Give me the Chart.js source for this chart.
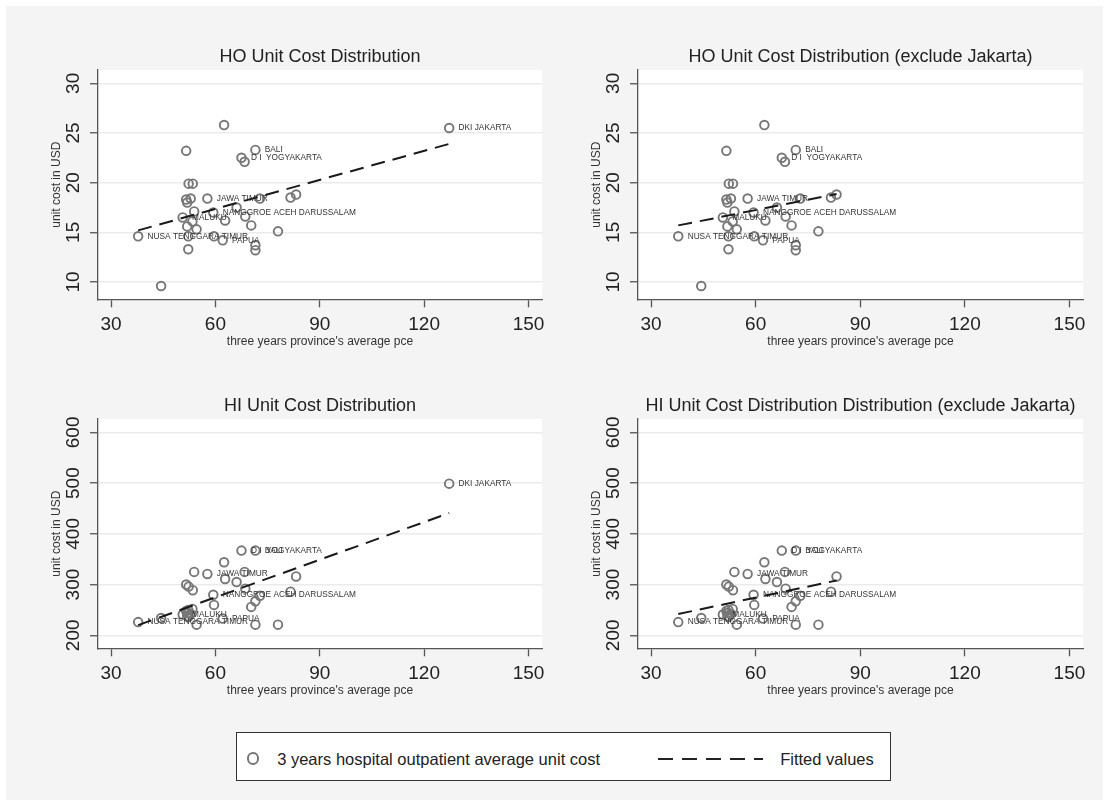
<!DOCTYPE html>
<html lang="en">
<head>
<meta charset="utf-8" />
<title>unit cost distribution</title>
<script src="https://cdn.jsdelivr.net/npm/chart.js@4.4.0/dist/chart.umd.min.js"></script>
<style>
  html, body { margin: 0; padding: 0; background: #fff; }
  #page { position: absolute; left: 6px; top: 6px; width: 1097px; height: 794px; background: #f4f4f4; }
  canvas { position: absolute; }
  #legend { position: absolute; left: 230px; top: 726px; width: 653px; height: 47px; background: #fff;
            border: 1.5px solid #333; font: 16.5px "Liberation Sans", Arial, sans-serif; color: #222; }
  #legend span { position: absolute; display: block; }
  .mark { left: 10px; top: 19.3px; width: 12.4px; height: 12.4px; box-sizing: border-box;
          border: 2px solid #777; border-radius: 50%; }
  .dash { left: 420.5px; top: 24.5px; width: 105.5px; height: 2px;
          background: repeating-linear-gradient(to right, #222 0 15px, transparent 15px 24px); }
  .txt { top: 25.5px; transform: translateY(-50%); white-space: nowrap; }
</style>
</head>
<body>
<div id="page">
  <canvas id="hoAll" width="549" height="355" style="left:0;top:0"></canvas>
  <canvas id="hoExcl" width="550" height="355" style="left:540px;top:0"></canvas>
  <canvas id="hiAll" width="549" height="355" style="left:0;top:349px"></canvas>
  <canvas id="hiExcl" width="550" height="355" style="left:540px;top:349px"></canvas>
  <div id="legend">
    <span class="mark"></span>
    <span class="txt" style="left:40.2px">3 years hospital outpatient average unit cost</span>
    <span class="dash"></span>
    <span class="txt" style="left:543.2px">Fitted values</span>
  </div>
</div>

<script>
// three years province's average pce (same x for every panel)
var pce = [62.5, 51.6, 71.5, 67.5, 68.4, 52.3, 53.5, 51.6, 52.9, 51.9, 57.7, 72.8,
           81.6, 83.2, 53.9, 59.4, 66.1, 68.6, 50.6, 53.4, 62.8, 70.3, 51.9, 54.6,
           78.0, 37.8, 52.2, 59.6, 62.1, 71.5, 71.5, 52.2, 44.4, 127.2];
// HO unit cost in USD
var hoCost = [25.8, 23.2, 23.3, 22.5, 22.1, 19.9, 19.9, 18.3, 18.4, 18.0, 18.4, 18.4,
              18.5, 18.8, 17.1, 17.0, 17.5, 16.6, 16.5, 16.1, 16.2, 15.7, 15.6, 15.3,
              15.1, 14.6, 14.6, 14.6, 14.2, 13.7, 13.2, 13.3, 9.6, 25.5];
// HI unit cost in USD
var hiCost = [344, 300, 367, 367, 325, 296, 289, 248, 242, 244, 321, 278,
              286, 316, 325, 280, 305, 292, 241, 252, 311, 256, 238, 221,
              221, 226, 250, 260, 233, 267, 221, 236, 234, 499];
var provNames = ["", "", "BALI", "D I  YOGYAKARTA", "", "", "", "", "", "", "JAWA TIMUR", "",
                 "", "", "", "NANGGROE ACEH DARUSSALAM", "", "", "MALUKU", "", "", "", "", "",
                 "", "NUSA TENGGARA TIMUR", "", "", "PAPUA", "", "", "", "", "DKI JAKARTA"];
var jakarta = 33;

// fitted values, read at the ends of each dashed line
var fitX = [37.8, 127.2];
var fitXExcl = [37.8, 83.2];
var hoFit = [15.2, 23.9];
var hoFitExcl = [15.7, 18.85];
var hiFit = [220, 441];
var hiFitExcl = [242, 308];

var xTicks = [30, 60, 90, 120, 150];
var hoTicks = [10, 15, 20, 25, 30];
var hiTicks = [200, 300, 400, 500, 600];

Chart.defaults.font.family = '"Liberation Sans", Arial, sans-serif';
Chart.defaults.color = '#222';

var whitePlot = {
  id: 'whitePlot',
  beforeDraw: function (chart) {
    var a = chart.chartArea, ctx = chart.ctx;
    ctx.save();
    ctx.fillStyle = '#fff';
    ctx.fillRect(a.left, a.top, a.right - a.left, a.bottom - a.top);
    ctx.restore();
  }
};

var pointNames = {
  id: 'pointNames',
  afterDatasetDraw: function (chart, args, opts) {
    if (args.index !== 0) return;
    var ctx = chart.ctx;
    var pts = chart.getDatasetMeta(0).data;
    ctx.save();
    ctx.font = '8.3px "Liberation Sans", Arial, sans-serif';
    ctx.fillStyle = '#333';
    ctx.textAlign = 'left';
    ctx.textBaseline = 'middle';
    pts.forEach(function (p, i) {
      var name = opts.names[i];
      if (name) ctx.fillText(name, p.x + 9.4, p.y);
    });
    ctx.restore();
  }
};

function drawPanel(id, title, costs, fx, fy, yMin, yMax, yTicks, yPad, dropJakarta) {
  var pts = [], names = [];
  for (var i = 0; i < pce.length; i++) {
    if (dropJakarta && i === jakarta) continue;
    pts.push({ x: pce[i], y: costs[i] });
    names.push(provNames[i]);
  }
  var ctx = document.getElementById(id).getContext('2d');
  return new Chart(ctx, {
    type: 'scatter',
    data: {
      datasets: [
        {
          data: pts,
          order: 1,
          pointStyle: 'circle',
          pointRadius: 4.3,
          pointBorderWidth: 1.9,
          borderColor: '#777',
          backgroundColor: 'rgba(0,0,0,0)'
        },
        {
          data: [{ x: fx[0], y: fy[0] }, { x: fx[1], y: fy[1] }],
          order: 0,
          showLine: true,
          pointRadius: 0,
          borderColor: '#1a1a1a',
          borderWidth: 2,
          borderDash: [14, 8]
        }
      ]
    },
    options: {
      responsive: false,
      animation: false,
      events: [],
      devicePixelRatio: 1,
      layout: { padding: { left: 0, right: 13, top: 0, bottom: 0 } },
      plugins: {
        legend: { display: false },
        tooltip: { enabled: false },
        title: {
          display: true,
          fullSize: false,
          text: title,
          color: '#222',
          font: { size: 18, weight: 'normal' },
          padding: { top: 40.2, bottom: 2.2 }
        },
        pointNames: { names: names }
      },
      scales: {
        x: {
          type: 'linear',
          min: 26.26,
          max: 153.88,
          afterBuildTicks: function (s) { s.ticks = xTicks.map(function (v) { return { value: v }; }); },
          afterFit: function (s) { s.height = 61.7; },
          ticks: { font: { size: 19 }, color: '#222', padding: 6, maxRotation: 0, autoSkip: false },
          grid: { drawOnChartArea: false, tickLength: 8, tickColor: '#555', tickWidth: 1.3 },
          border: { color: '#555', width: 1.3 },
          title: {
            display: true,
            text: "three years province's average pce",
            color: '#333',
            font: { size: 12 },
            padding: { top: 0, bottom: 12.1 }
          }
        },
        y: {
          type: 'linear',
          min: yMin,
          max: yMax,
          afterBuildTicks: function (s) { s.ticks = yTicks.map(function (v) { return { value: v }; }); },
          afterFit: function (s) { s.width = 92; },
          ticks: {
            font: { size: 19 }, color: '#222', padding: yPad,
            minRotation: 90, maxRotation: 90, crossAlign: 'center', autoSkip: false
          },
          grid: { color: '#ebebeb', lineWidth: 1.5, tickLength: 8, tickColor: '#555', tickWidth: 1.3 },
          border: { color: '#555', width: 1.3 },
          title: {
            display: true,
            text: 'unit cost in USD',
            color: '#333',
            font: { size: 12 },
            padding: { top: 43.4, bottom: 0 }
          }
        }
      }
    },
    plugins: [whitePlot, pointNames]
  });
}

drawPanel('hoAll', 'HO Unit Cost Distribution', hoCost, fitX, hoFit, 8.26, 31.34, hoTicks, 5.9, false);
drawPanel('hoExcl', 'HO Unit Cost Distribution (exclude Jakarta)', hoCost, fitXExcl, hoFitExcl, 8.26, 31.34, hoTicks, 5.9, true);
drawPanel('hiAll', 'HI Unit Cost Distribution', hiCost, fitX, hiFit, 174.4, 626.4, hiTicks, 0.65, false);
drawPanel('hiExcl', 'HI Unit Cost Distribution Distribution (exclude Jakarta)', hiCost, fitXExcl, hiFitExcl, 174.4, 626.4, hiTicks, 0.65, true);
</script>
</body>
</html>
